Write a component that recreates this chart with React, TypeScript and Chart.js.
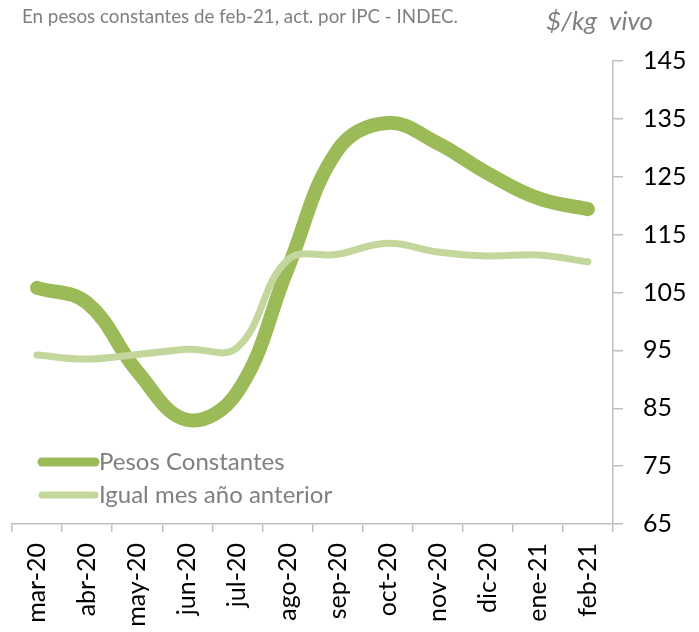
import React, { useEffect, useRef } from "react";
import { Chart, registerables } from "chart.js";

Chart.register(...registerables);

const months = ["mar-20", "abr-20", "may-20", "jun-20", "jul-20", "ago-20", "sep-20", "oct-20", "nov-20", "dic-20", "ene-21", "feb-21"];
const pesosConstantes = [105.8, 103.2, 91.4, 83.0, 87.8, 109.0, 129.6, 134.3, 130.8, 125.6, 121.3, 119.4];
const igualMesAnterior = [94.2, 93.5, 94.3, 95.2, 95.5, 110.6, 111.6, 113.5, 112.0, 111.3, 111.5, 110.3];
const seriesNames = ["Pesos Constantes", "Igual mes año anterior"];
const subtitle = "En pesos constantes de feb-21, act. por IPC - INDEC.";
const unitLabel = "$/kg  vivo";

const DARK = "#9BBB59";
const LIGHT = "#C3D69B";
const FONT = "Lato, 'Open Sans', sans-serif";

const overlayPlugin = {
  id: "overlay",
  afterDraw(chart: any) {
    const ctx = chart.ctx;
    ctx.save();
    ctx.textBaseline = "alphabetic";
    ctx.textAlign = "left";
    ctx.fillStyle = "#7F7F7F";
    ctx.font = `18.8px ${FONT}`;
    ctx.fillText(subtitle, 22, 23);
    ctx.font = `italic 26px ${FONT}`;
    ctx.fillText(unitLabel, 546, 30);

    // legend
    const items = [
      { color: DARK, width: 9, y: 462 },
      { color: LIGHT, width: 7, y: 495 },
    ];
    items.forEach((it, i) => {
      ctx.strokeStyle = it.color;
      ctx.lineWidth = it.width;
      ctx.lineCap = "round";
      ctx.beginPath();
      ctx.moveTo(42, it.y);
      ctx.lineTo(95, it.y);
      ctx.stroke();
      ctx.fillStyle = "#7F7F7F";
      ctx.font = `24px ${FONT}`;
      ctx.textBaseline = "middle";
      ctx.fillText(seriesNames[i], 99, it.y);
    });
    ctx.restore();
  },
};

export default function App() {
  const ref = useRef<HTMLCanvasElement>(null);
  useEffect(() => {
    if (!ref.current) return;
    const chart = new Chart(ref.current, {
      type: "line",
      data: {
        labels: months,
        datasets: [
          {
            label: seriesNames[1],
            data: igualMesAnterior,
            borderColor: LIGHT,
            borderWidth: 7,
            borderCapStyle: "round",
            borderJoinStyle: "round",
            pointRadius: 0,
            tension: 0.4,
            fill: false,
          },
          {
            label: seriesNames[0],
            data: pesosConstantes,
            borderColor: DARK,
            borderWidth: 14,
            borderCapStyle: "round",
            borderJoinStyle: "round",
            pointRadius: 0,
            tension: 0.4,
            fill: false,
          },
        ],
      },
      options: {
        responsive: false,
        animation: false,
        devicePixelRatio: 1,
        layout: { padding: { top: 61, left: 12, right: 0, bottom: 0 } },
        plugins: {
          legend: { display: false },
          title: { display: false },
          tooltip: { enabled: false },
        },
        scales: {
          x: {
            offset: true,
            grid: {
              offset: true,
              drawOnChartArea: false,
              drawTicks: true,
              tickLength: 8,
              color: "#BFBFBF",
              lineWidth: 1.5,
            },
            border: { color: "#BFBFBF", width: 1.5 },
            ticks: {
              autoSkip: false,
              maxRotation: 90,
              minRotation: 90,
              padding: 11,
              color: "#000000",
              font: { family: FONT, size: 25 },
            },
            afterFit(scale: any) {
              scale.height = 108;
            },
          },
          y: {
            position: "right",
            min: 65,
            max: 145,
            ticks: {
              stepSize: 10,
              padding: 20,
              color: "#000000",
              font: { family: FONT, size: 25 },
            },
            grid: {
              drawOnChartArea: false,
              drawTicks: true,
              tickLength: 10,
              color: "#BFBFBF",
              lineWidth: 1.5,
            },
            border: { color: "#BFBFBF", width: 1.5 },
            afterFit(scale: any) {
              scale.width = 86;
            },
          },
        },
      },
      plugins: [overlayPlugin],
    });
    return () => chart.destroy();
  }, []);
  return (
    <div style={{ position: "absolute", left: 0, top: 0, width: 699, height: 632, background: "#fff" }}>
      <canvas ref={ref} width={699} height={632} />
    </div>
  );
}
